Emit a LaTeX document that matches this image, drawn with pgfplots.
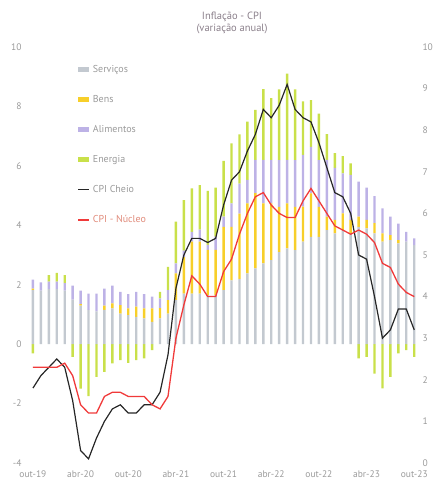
\documentclass[border=0pt]{standalone}
\usepackage{pgfplots}
\pgfplotsset{compat=1.18}
\usepackage{pgfplotstable}
\usepackage{fontspec}
\setmainfont{PT Sans}
\definecolor{srv}{HTML}{C3C9D0}
\definecolor{bens}{HTML}{F7CF2A}
\definecolor{alim}{HTML}{BDB2E6}
\definecolor{ener}{HTML}{C9E04A}
\definecolor{cpired}{HTML}{F03A3A}
\definecolor{labgray}{HTML}{9A9A9A}
\definecolor{titgray}{HTML}{8A7F8A}
\definecolor{salmon}{HTML}{E08A7A}

\pgfplotstableread{
i srv bens alim ener cpi core
0 1.82 0.05 0.30 -0.31 1.8 2.3
1 1.80 0.00 0.28 0.00 2.1 2.3
2 1.85 0.00 0.25 0.22 2.3 2.3
3 1.85 0.00 0.25 0.30 2.5 2.3
4 1.80 0.00 0.25 0.27 2.3 2.4
5 1.50 0.00 0.47 -0.43 1.5 2.1
6 1.30 0.05 0.45 -1.50 0.3 1.4
7 1.15 0.00 0.55 -1.75 0.1 1.2
8 1.10 0.00 0.60 -1.10 0.6 1.2
9 1.15 0.15 0.57 -0.93 1.0 1.6
10 1.20 0.17 0.60 -0.65 1.3 1.7
11 1.03 0.28 0.45 -0.54 1.4 1.7
12 0.98 0.22 0.48 -0.63 1.2 1.6
13 0.92 0.34 0.50 -0.54 1.2 1.6
14 0.87 0.33 0.48 -0.48 1.4 1.6
15 0.75 0.45 0.40 -0.20 1.4 1.4
16 0.87 0.34 0.33 0.22 1.7 1.3
17 1.03 0.45 0.34 0.78 2.6 1.6
18 1.48 0.90 0.34 1.40 4.2 3.0
19 1.70 1.23 0.22 1.70 5.0 3.8
20 1.70 1.75 0.33 1.46 5.4 4.5
21 1.70 1.75 0.40 1.50 5.4 4.3
22 1.65 1.52 0.17 1.82 5.3 4.0
23 1.65 1.52 0.45 1.65 5.4 4.0
24 1.82 2.13 0.34 1.88 6.2 4.6
25 2.15 1.80 0.79 2.02 6.8 4.9
26 2.20 2.19 1.01 1.66 7.0 5.5
27 2.38 2.36 0.79 1.96 7.5 6.0
28 2.55 2.53 1.12 1.68 7.9 6.4
29 2.72 2.02 1.46 2.38 8.5 6.5
30 2.83 1.91 1.46 2.08 8.3 6.2
31 3.10 1.52 1.57 2.38 8.6 6.0
32 3.22 1.52 1.46 2.90 9.1 5.9
33 3.16 1.46 1.57 2.38 8.5 5.9
34 3.45 1.18 1.74 1.80 8.3 6.3
35 3.61 1.46 1.57 1.57 8.2 6.6
36 3.61 1.01 1.57 1.57 7.7 6.3
37 3.84 0.45 1.91 0.87 7.1 6.0
38 3.73 0.45 1.75 0.50 6.5 5.7
39 3.84 0.56 1.35 0.58 6.4 5.6
40 3.73 0.45 1.52 0.38 6.0 5.5
41 3.95 0.34 1.18 -0.48 5.0 5.6
42 3.90 0.28 1.09 -0.43 4.9 5.5
43 3.73 0.34 0.91 -0.99 4.0 5.3
44 3.45 0.28 0.84 -1.49 3.0 4.8
45 3.50 0.17 0.62 -1.10 3.2 4.7
46 3.39 0.11 0.56 -0.31 3.7 4.3
47 3.45 0.00 0.33 -0.20 3.7 4.1
48 3.33 0.00 0.23 -0.43 3.2 4.0
}\data

\pgfplotsset{
  base/.style={scale only axis, width=394pt, height=416pt, xmin=-1, xmax=48.6,
    axis line style={draw=none}, major tick length=0pt,
    ticklabel style={text=labgray, font=\fontsize{9.5}{11}\selectfont},
    /pgf/number format/assume math mode=true},
  barlegend/.style={legend image code/.code={\fill[##1, draw=none] (0pt,-2.5pt) rectangle (11pt,2.5pt);}},
  linelegend/.style={legend image code/.code={\draw[##1] (0pt,0pt) -- (11pt,0pt);}},
}

\begin{document}
\begin{tikzpicture}
\useasboundingbox (-25pt,-24pt) rectangle (409pt,463pt);
\begin{axis}[base,
  ymin=-4, ymax=10, ytick={-4,-2,...,10},
  ybar stacked, stack negative=separate, bar width=2.4pt,
  xtick={0,6,...,48},
  xticklabels={out-19,abr-20,out-20,abr-21,out-21,abr-22,out-22,abr-23,out-23},
  xticklabel style={yshift=-4pt},
  axis y line*=left]
\addplot[fill=srv, draw=none] table[x=i, y=srv] {\data};
\addplot[fill=bens, draw=none] table[x=i, y=bens] {\data};
\addplot[fill=alim, draw=none] table[x=i, y=alim] {\data};
\addplot[fill=ener, draw=none] table[x=i, y=ener] {\data};
\end{axis}
\begin{axis}[base,
  ymin=0, ymax=10, ytick={0,1,...,10},
  axis y line*=right, xtick=\empty,
  legend cell align=left,
  legend style={draw=none, fill=none, at={(0.133,0.962)}, anchor=north west,
    row sep=17.5pt, font=\fontsize{10}{12}\selectfont, text=labgray,
    inner sep=0pt, /tikz/every odd column/.append style={column sep=1pt}}]
\addlegendimage{barlegend, fill=srv}
\addlegendimage{barlegend, fill=bens}
\addlegendimage{barlegend, fill=alim}
\addlegendimage{barlegend, fill=ener}
\addplot[linelegend, black!85, line width=1.2pt] table[x=i, y=cpi] {\data};
\addplot[linelegend, cpired, line width=1.3pt] table[x=i, y=core] {\data};
\legend{Serviços, Bens, Alimentos, Energia, CPI Cheio, \textcolor{salmon}{CPI - Núcleo}}
\end{axis}
\node[align=center, text=titgray, font=\fontsize{10.5}{12}\selectfont] at (207pt,440pt) {Inflação - CPI\\(variação anual)};
\end{tikzpicture}
\end{document}
